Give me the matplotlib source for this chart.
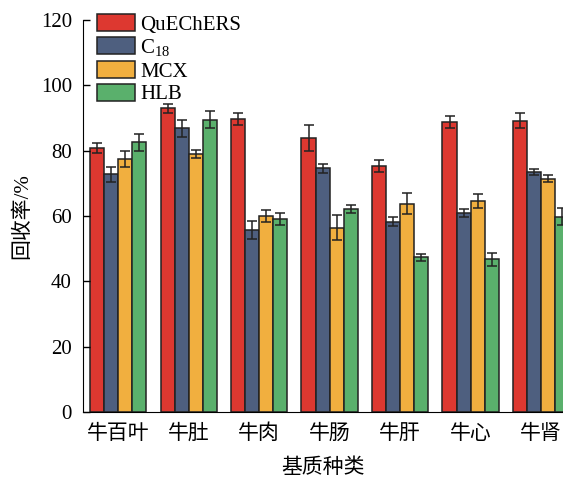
import numpy as np
import matplotlib
matplotlib.use("Agg")
import matplotlib.pyplot as plt

plt.rcParams['font.family'] = ['Liberation Serif', 'Noto Sans CJK SC']
plt.rcParams['mathtext.fontset'] = 'custom'
plt.rcParams['mathtext.rm'] = 'Liberation Serif'

# recovery data (%) for each matrix
matrices = ["牛百叶", "牛肚", "牛肉", "牛肠", "牛肝", "牛心", "牛肾"]
methods = ["QuEChERS", "C$_{\\mathrm{18}}$", "MCX", "HLB"]
quechers = [80.7, 93.0, 89.7, 83.8, 75.3, 88.7, 89.2]
quechers_err = [1.5, 1.4, 1.7, 4.0, 1.8, 1.8, 2.3]
c18 = [72.7, 86.8, 55.7, 74.6, 58.3, 60.8, 73.5]
c18_err = [2.3, 2.7, 2.7, 1.4, 1.5, 1.2, 1.0]
mcx = [77.4, 79.0, 60.0, 56.4, 63.8, 64.6, 71.4]
mcx_err = [2.5, 1.3, 1.8, 3.8, 3.1, 2.1, 1.1]
hlb = [82.5, 89.4, 59.0, 62.2, 47.3, 46.7, 59.8]
hlb_err = [2.5, 2.6, 1.8, 1.2, 1.2, 1.9, 2.6]

colors = ["#DD3830", "#4E5F7F", "#F1AF3F", "#5AB06C"]

fig = plt.figure(figsize=(5.63, 4.79), dpi=100)
ax = fig.add_axes([0.1474, 0.1399, 0.8526, 0.8184])

x = np.arange(len(matrices))
w = 0.2
series = [(quechers, quechers_err), (c18, c18_err), (mcx, mcx_err), (hlb, hlb_err)]
for i, (vals, errs) in enumerate(series):
    ax.bar(x - 0.3 + i * w, vals, w, yerr=errs, color=colors[i],
           edgecolor="#222222", linewidth=1.1, label=methods[i],
           error_kw=dict(ecolor="#222222", elinewidth=1.1, capsize=3.3, capthick=1.1))

ax.set_xlim(-0.5, 6.31)
ax.set_ylim(0, 120)
ax.set_yticks(range(0, 121, 20))
ax.set_xticks(x)
ax.set_xticklabels(matrices, fontsize=15)
ax.tick_params(axis='y', direction='in', length=5, width=1, labelsize=15, pad=8)
ax.tick_params(axis='x', length=0, pad=9)
ax.spines['top'].set_visible(False)
ax.spines['right'].set_visible(False)
ax.set_ylabel("回收率/%", fontsize=15, labelpad=6)
ax.set_xlabel("基质种类", fontsize=15, labelpad=10)

ax.legend(loc='upper left', bbox_to_anchor=(0.03, 1.015), frameon=False,
          fontsize=15, handlelength=1.8, handleheight=0.9, handletextpad=0.25,
          labelspacing=0.1, borderpad=0, borderaxespad=0)

fig.savefig("out.png", dpi=100)
